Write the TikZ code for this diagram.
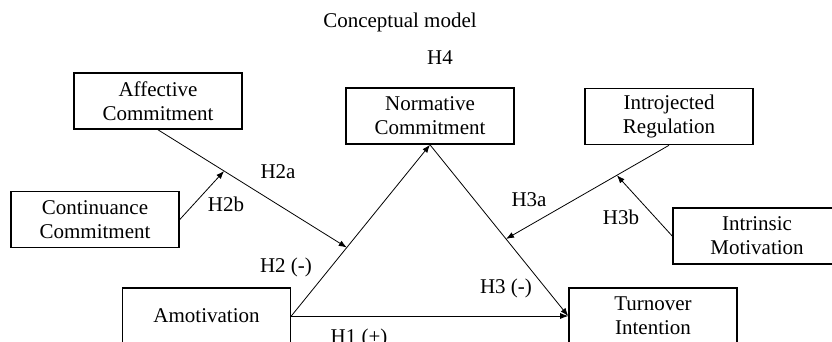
\documentclass[tikz,border=0pt]{standalone}
\usepackage{fontspec}
\setmainfont{Liberation Serif}
\usetikzlibrary{arrows.meta}

\begin{document}
\begin{tikzpicture}[x=1pt, y=-1pt,
		every node/.style={font=\fontsize{21}{24}\selectfont},
		var/.style={draw=black, line width=1.6pt, minimum width=168pt, minimum height=56pt, inner sep=0pt, align=center},
		hyp/.style={black, line width=0.8pt, -{Latex[length=8pt,width=6pt]}}]
			\useasboundingbox (0,0) rectangle (832,342);
			\clip (0,0) rectangle (832,342);
			
			\node (title) at (400,22) {Conceptual model};
			\node (h4) at (440,58) {H4};
			
			% variables
			\node[var] (aff) at (158,101) {Affective\\Commitment};
			\node[var] (cont) at (95,219.5) {Continuance\\Commitment};
			\node[var] (norm) at (430,116) {Normative\\Commitment};
			\node[var] (intro) at (669,116.5) {Introjected\\Regulation};
			\node[var] (intr) at (757,236) {Intrinsic\\Motivation};
			\node[var] (amo) at (206.5,316) {Amotivation};
			\node[var] (turn) at (653,316) {Turnover\\Intention};
			
			% main paths
			\draw[hyp] (amo.east) -- coordinate[pos=0.4] (m2) (norm.south);
			\draw[hyp] (norm.south) -- coordinate[pos=0.55] (m3) (turn.west);
			\draw[hyp] (amo.east) -- (turn.west);
			
			% moderators
			\draw[hyp] (aff.south) -- coordinate[pos=0.35] (m2b) (m2);
			\draw[hyp] (cont.east) -- (m2b);
			\draw[hyp] (intro.south) -- coordinate[pos=0.32] (m3b) (m3);
			\draw[hyp] (intr.west) -- (m3b);
			
			% labels
			\node (h2a) at (278,172) {H2a};
			\node (h2b) at (226,204) {H2b};
			\node (h2) at (286,267) {H2 (-)};
			\node (h3a) at (529,200) {H3a};
			\node (h3b) at (621,217) {H3b};
			\node (h3) at (506,288) {H3 (-)};
			\node (h1) at (359,338) {H1 (+)};
		\end{tikzpicture}
\end{document}
